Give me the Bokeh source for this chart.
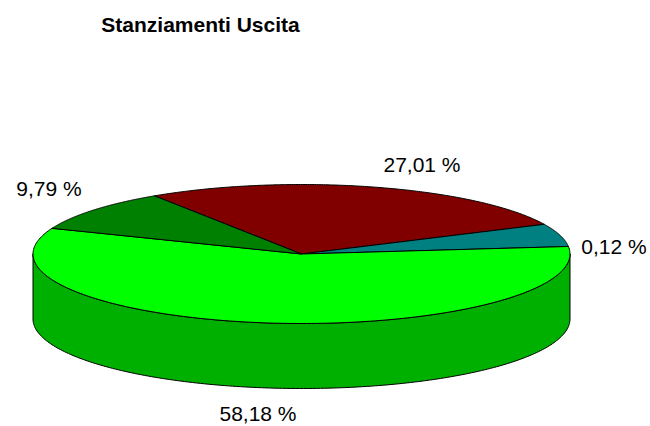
import numpy as np
from bokeh.plotting import figure
from bokeh.core.properties import value
from bokeh.embed import file_html
from bokeh.resources import INLINE

title_text = "Stanziamenti Uscita"
labels = ["27,01 %", "0,12 %", "58,18 %", "9,79 %"]
colors = ["#800000", "#008080", "#00FF00", "#008000"]
side_color = "#00B000"
# shares of the circle as actually drawn in the picture (percent), clockwise from the red slice's start
drawn_shares = [27.2, 5.3, 57.75, 9.75]
start_angle_deg = 123.2

label_x = [421.5, 613.5, 257.5, 48.5]
label_y = [164, 246, 413, 188]

cx, cy, rx, ry, depth = 301.0, 253.5, 268.5, 69.5, 65.0

p = figure(width=650, height=426, x_range=(0, 650), y_range=(426, 0),
           output_backend="svg", toolbar_location=None, min_border=0,
           outline_line_color=None, background_fill_color="white", border_fill_color="white")
p.axis.visible = False
p.grid.visible = False

# side wall: front half of the ellipse extruded downward
t = np.radians(np.linspace(180, 360, 200))
ex, ey = cx + rx * np.cos(t), cy - ry * np.sin(t)
p.patch(np.concatenate([ex, ex[::-1]]), np.concatenate([ey, ey[::-1] + depth]),
        fill_color=side_color, line_color="black", line_width=1)

a = start_angle_deg
for share, color in zip(drawn_shares, colors):
    b = a - share * 3.6
    t = np.radians(np.linspace(a, b, 200))
    xs = np.concatenate([[cx], cx + rx * np.cos(t)])
    ys = np.concatenate([[cy], cy - ry * np.sin(t)])
    p.patch(xs, ys, fill_color=color, line_color="black", line_width=1)
    a = b

font = value("Liberation Sans")
p.text(label_x, label_y, text=labels, text_font=font, text_font_size="21px",
       text_color="black", text_align="center", text_baseline="middle")
p.text([200], [23.5], text=[title_text], text_font=font, text_font_size="21px",
       text_font_style="bold", text_color="black", text_align="center", text_baseline="middle")

open("out.html", "w").write(file_html(p, INLINE))
